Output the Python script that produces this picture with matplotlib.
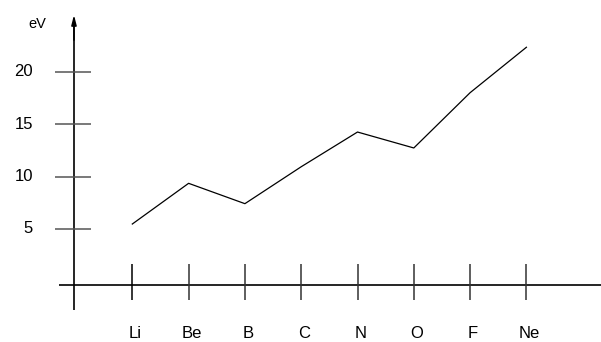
import matplotlib
matplotlib.use("Agg")
import matplotlib.pyplot as plt

elements = ["Li", "Be", "B", "C", "N", "O", "F", "Ne"]
energies = [5.47, 9.35, 7.41, 10.93, 14.24, 12.72, 17.99, 22.32]
y_ticks = [5, 10, 15, 20]
y_unit = "eV"

plt.rcParams['font.family'] = ['Liberation Sans', 'DejaVu Sans']

fig = plt.figure(figsize=(6.01, 3.42), dpi=100)
ax = fig.add_axes([0, 0, 1, 1])
ax.set_xlim(-2.350, 8.325)
ax.set_ylim(-5.777, 26.826)
ax.axis('off')

# axis geometry (data units)
yaxis_x = -1.036
xaxis_y = -0.343

# y axis with arrow
ax.plot([yaxis_x, yaxis_x], [-2.73, 24.8], color='black', lw=1.2, solid_capstyle='butt')
ax.annotate('', xy=(yaxis_x, 25.4), xytext=(yaxis_x, 23.0),
            arrowprops=dict(arrowstyle='-|>,head_length=0.58,head_width=0.15',
                            mutation_scale=10, color='black', lw=1.1,
                            shrinkA=0, shrinkB=0))
# x axis
ax.plot([-1.302, 8.325], [xaxis_y, xaxis_y], color='black', lw=1.2, solid_capstyle='butt')

# y ticks and labels
for v in y_ticks:
    ax.plot([-1.373, -0.734], [v, v], color='#555555', lw=1.1, solid_capstyle='butt')
    ax.text(-1.764, v, str(v), ha='right', va='center', fontsize=12, color='black')
ax.text(-1.853, 24.5, y_unit, ha='left', va='center', fontsize=10.5, color='black')

# x ticks and labels
for i, name in enumerate(elements):
    ax.plot([i, i], [1.659, -1.773], color='#333333' if i else 'black', lw=1.1,
            solid_capstyle='butt')
    ax.text(i + 0.05, -5.0, name, ha='center', va='center', fontsize=12, color='black')

# data line
ax.plot(range(len(elements)), energies, color='black', lw=0.9)

fig.savefig('out.png', dpi=100)
